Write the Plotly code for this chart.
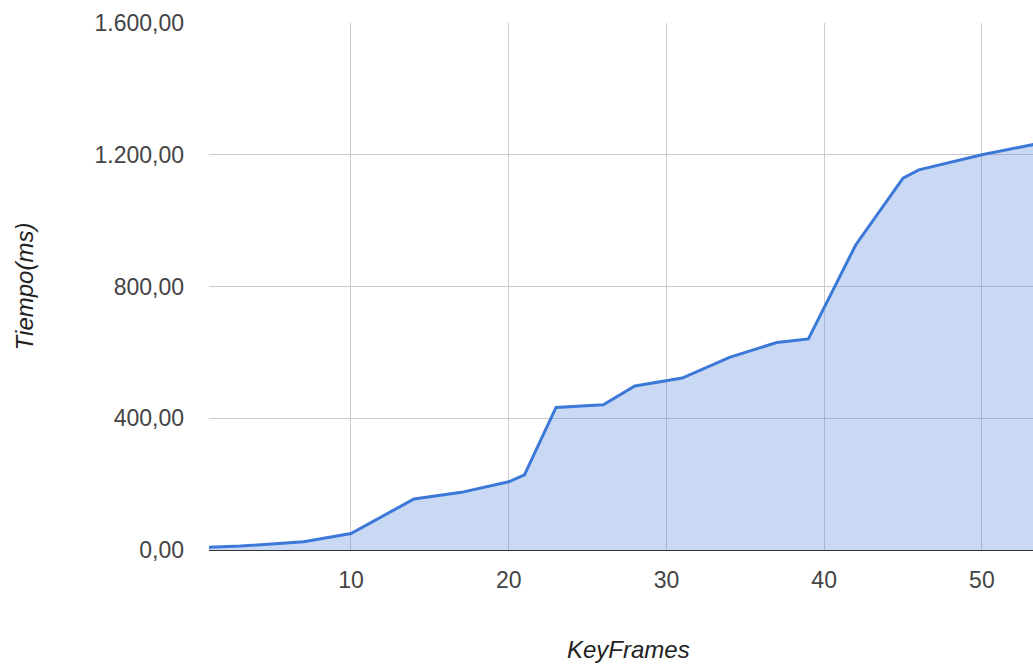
import plotly.graph_objects as go

# Rendering time per number of keyframes
keyframes = [1, 3, 7, 8, 10, 14, 17, 20, 21, 23, 26, 28, 31, 34, 37, 39, 42, 45, 46, 50, 54]
tiempo_ms = [8, 12, 25, 33, 50, 155, 175, 207, 228, 433, 441, 498, 522, 585, 630, 641, 926, 1129, 1154, 1200, 1238]

x_ticks = [10, 20, 30, 40, 50]
y_ticks = [0, 400, 800, 1200, 1600]

line_color = "#3c78d8"
font_family = "Liberation Sans, Arial, sans-serif"

fig = go.Figure(
    go.Scatter(
        x=keyframes,
        y=tiempo_ms,
        mode="lines",
        line=dict(color=line_color, width=3),
        fill="tozeroy",
        fillcolor="rgba(60,120,216,0.28)",
        hoverinfo="x+y",
    )
)

fig.update_layout(
    width=1033,
    height=666,
    margin=dict(l=209, r=0, t=23, b=116),
    paper_bgcolor="white",
    plot_bgcolor="white",
    separators=",.",
    showlegend=False,
    font=dict(family=font_family, size=23, color="#444"),
)

fig.update_xaxes(
    range=[1, 53.24],
    tickvals=x_ticks,
    showgrid=True,
    gridcolor="#cccccc",
    gridwidth=1,
    zeroline=False,
    showline=True,
    linecolor="#333333",
    linewidth=1,
    ticks="",
    ticklabelstandoff=9,
    tickfont=dict(size=23, color="#444"),
)

fig.update_yaxes(
    range=[0, 1600],
    tickvals=y_ticks,
    tickformat=",.2f",
    showgrid=True,
    gridcolor="#cccccc",
    gridwidth=1,
    zeroline=False,
    ticks="",
    ticklabelstandoff=24,
    tickfont=dict(size=23, color="#444"),
    title=dict(
        text="<i>Tiempo(ms)</i>",
        font=dict(size=24, color="#222"),
        standoff=54,
    ),
)

# Horizontal axis title
fig.add_annotation(
    text="<i>KeyFrames</i>",
    xref="paper",
    yref="paper",
    x=0.5085,
    y=-0.189,
    xanchor="center",
    yanchor="middle",
    showarrow=False,
    font=dict(size=24, color="#222"),
)

fig.write_html("out.html")
